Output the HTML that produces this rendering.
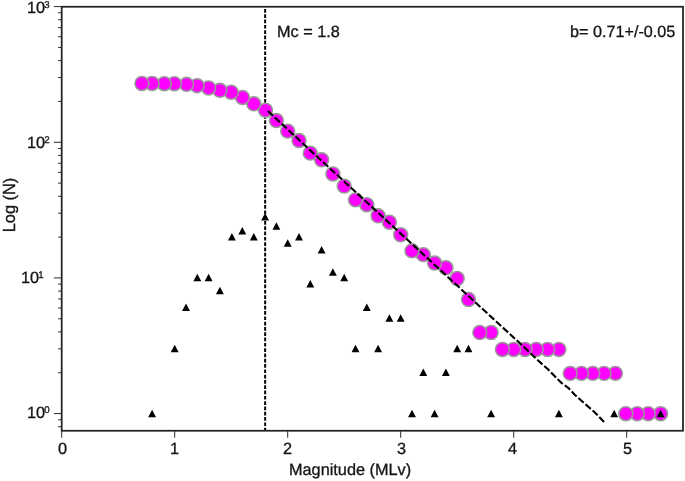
<!DOCTYPE html>
<html><head><meta charset="utf-8"><title>chart</title>
<style>
html,body{margin:0;padding:0;background:#fff;}
body{width:685px;height:481px;position:relative;overflow:hidden;font-family:"Liberation Sans",sans-serif;color:#141414;-webkit-text-stroke:0.3px #141414;}
.t{position:absolute;white-space:nowrap;line-height:1;will-change:transform;font-family:"Liberation Sans",sans-serif;}
.r{display:inline-block;transform:rotate(0.03deg);transform-origin:0 100%;}
.s{font-size:9.7px;position:relative;top:-5.1px;left:-0.9px;}
</style></head><body>
<svg width="685" height="481" viewBox="0 0 685 481" style="position:absolute;left:0;top:0">
<line x1="265.15" y1="9.0" x2="265.15" y2="430.75" stroke="#000" stroke-width="2" stroke-dasharray="3.7 1.6"/>
<circle cx="660.60" cy="413.70" r="6.95" fill="#ff00ff" stroke="#989898" stroke-width="1.55"/>
<circle cx="648.20" cy="413.70" r="6.95" fill="#ff00ff" stroke="#989898" stroke-width="1.55"/>
<circle cx="637.20" cy="413.70" r="6.95" fill="#ff00ff" stroke="#989898" stroke-width="1.55"/>
<circle cx="625.80" cy="413.70" r="6.95" fill="#ff00ff" stroke="#989898" stroke-width="1.55"/>
<circle cx="615.40" cy="373.36" r="6.95" fill="#ff00ff" stroke="#989898" stroke-width="1.55"/>
<circle cx="604.10" cy="373.36" r="6.95" fill="#ff00ff" stroke="#989898" stroke-width="1.55"/>
<circle cx="592.80" cy="373.36" r="6.95" fill="#ff00ff" stroke="#989898" stroke-width="1.55"/>
<circle cx="581.50" cy="373.36" r="6.95" fill="#ff00ff" stroke="#989898" stroke-width="1.55"/>
<circle cx="570.20" cy="373.36" r="6.95" fill="#ff00ff" stroke="#989898" stroke-width="1.55"/>
<circle cx="558.90" cy="349.47" r="6.95" fill="#ff00ff" stroke="#989898" stroke-width="1.55"/>
<circle cx="547.60" cy="349.47" r="6.95" fill="#ff00ff" stroke="#989898" stroke-width="1.55"/>
<circle cx="536.30" cy="349.47" r="6.95" fill="#ff00ff" stroke="#989898" stroke-width="1.55"/>
<circle cx="525.00" cy="349.47" r="6.95" fill="#ff00ff" stroke="#989898" stroke-width="1.55"/>
<circle cx="513.70" cy="349.47" r="6.95" fill="#ff00ff" stroke="#989898" stroke-width="1.55"/>
<circle cx="502.40" cy="349.47" r="6.95" fill="#ff00ff" stroke="#989898" stroke-width="1.55"/>
<circle cx="491.10" cy="332.52" r="6.95" fill="#ff00ff" stroke="#989898" stroke-width="1.55"/>
<circle cx="479.80" cy="332.52" r="6.95" fill="#ff00ff" stroke="#989898" stroke-width="1.55"/>
<circle cx="468.50" cy="299.55" r="6.95" fill="#ff00ff" stroke="#989898" stroke-width="1.55"/>
<circle cx="457.20" cy="278.53" r="6.95" fill="#ff00ff" stroke="#989898" stroke-width="1.55"/>
<circle cx="445.90" cy="267.79" r="6.95" fill="#ff00ff" stroke="#989898" stroke-width="1.55"/>
<circle cx="434.60" cy="263.07" r="6.95" fill="#ff00ff" stroke="#989898" stroke-width="1.55"/>
<circle cx="423.30" cy="254.64" r="6.95" fill="#ff00ff" stroke="#989898" stroke-width="1.55"/>
<circle cx="412.00" cy="250.84" r="6.95" fill="#ff00ff" stroke="#989898" stroke-width="1.55"/>
<circle cx="400.70" cy="234.81" r="6.95" fill="#ff00ff" stroke="#989898" stroke-width="1.55"/>
<circle cx="389.40" cy="222.23" r="6.95" fill="#ff00ff" stroke="#989898" stroke-width="1.55"/>
<circle cx="378.10" cy="215.80" r="6.95" fill="#ff00ff" stroke="#989898" stroke-width="1.55"/>
<circle cx="366.80" cy="204.72" r="6.95" fill="#ff00ff" stroke="#989898" stroke-width="1.55"/>
<circle cx="355.50" cy="199.87" r="6.95" fill="#ff00ff" stroke="#989898" stroke-width="1.55"/>
<circle cx="344.20" cy="186.11" r="6.95" fill="#ff00ff" stroke="#989898" stroke-width="1.55"/>
<circle cx="332.90" cy="173.95" r="6.95" fill="#ff00ff" stroke="#989898" stroke-width="1.55"/>
<circle cx="321.60" cy="159.81" r="6.95" fill="#ff00ff" stroke="#989898" stroke-width="1.55"/>
<circle cx="310.30" cy="153.13" r="6.95" fill="#ff00ff" stroke="#989898" stroke-width="1.55"/>
<circle cx="299.00" cy="140.55" r="6.95" fill="#ff00ff" stroke="#989898" stroke-width="1.55"/>
<circle cx="287.70" cy="131.14" r="6.95" fill="#ff00ff" stroke="#989898" stroke-width="1.55"/>
<circle cx="276.40" cy="120.56" r="6.95" fill="#ff00ff" stroke="#989898" stroke-width="1.55"/>
<circle cx="265.50" cy="110.22" r="6.95" fill="#ff00ff" stroke="#989898" stroke-width="1.55"/>
<circle cx="253.80" cy="103.81" r="6.95" fill="#ff00ff" stroke="#989898" stroke-width="1.55"/>
<circle cx="242.50" cy="97.48" r="6.95" fill="#ff00ff" stroke="#989898" stroke-width="1.55"/>
<circle cx="231.20" cy="92.27" r="6.95" fill="#ff00ff" stroke="#989898" stroke-width="1.55"/>
<circle cx="219.90" cy="90.30" r="6.95" fill="#ff00ff" stroke="#989898" stroke-width="1.55"/>
<circle cx="208.60" cy="87.94" r="6.95" fill="#ff00ff" stroke="#989898" stroke-width="1.55"/>
<circle cx="197.10" cy="85.66" r="6.95" fill="#ff00ff" stroke="#989898" stroke-width="1.55"/>
<circle cx="186.60" cy="84.34" r="6.95" fill="#ff00ff" stroke="#989898" stroke-width="1.55"/>
<circle cx="174.35" cy="83.69" r="6.95" fill="#ff00ff" stroke="#989898" stroke-width="1.55"/>
<circle cx="164.30" cy="83.69" r="6.95" fill="#ff00ff" stroke="#989898" stroke-width="1.55"/>
<circle cx="152.10" cy="83.47" r="6.95" fill="#ff00ff" stroke="#989898" stroke-width="1.55"/>
<circle cx="141.90" cy="83.47" r="6.95" fill="#ff00ff" stroke="#989898" stroke-width="1.55"/>
<path d="M148.15 417.25L156.05 417.25L152.10 409.75ZM170.75 352.22L178.65 352.22L174.70 344.72ZM182.05 310.88L189.95 310.88L186.00 303.38ZM193.35 281.28L201.25 281.28L197.30 273.78ZM204.65 281.28L212.55 281.28L208.60 273.78ZM215.95 294.13L223.85 294.13L219.90 286.63ZM227.95 240.44L235.85 240.44L231.90 232.94ZM238.35 234.52L246.25 234.52L242.30 227.02ZM249.85 240.44L257.75 240.44L253.80 232.94ZM261.15 220.61L269.05 220.61L265.10 213.11ZM272.45 229.70L280.35 229.70L276.40 222.20ZM283.75 246.65L291.65 246.65L287.70 239.15ZM295.05 240.44L302.95 240.44L299.00 232.94ZM306.35 287.49L314.25 287.49L310.30 279.99ZM317.65 253.59L325.55 253.59L321.60 246.09ZM328.95 275.66L336.85 275.66L332.90 268.16ZM340.25 281.28L348.15 281.28L344.20 273.78ZM351.55 352.22L359.45 352.22L355.50 344.72ZM362.85 310.88L370.75 310.88L366.80 303.38ZM374.15 352.22L382.05 352.22L378.10 344.72ZM385.45 321.82L393.35 321.82L389.40 314.32ZM396.75 321.82L404.65 321.82L400.70 314.32ZM408.05 417.25L415.95 417.25L412.00 409.75ZM419.35 376.11L427.25 376.11L423.30 368.61ZM430.65 417.25L438.55 417.25L434.60 409.75ZM441.95 376.11L449.85 376.11L445.90 368.61ZM453.25 352.22L461.15 352.22L457.20 344.72ZM464.55 352.22L472.45 352.22L468.50 344.72ZM487.15 417.25L495.05 417.25L491.10 409.75ZM554.95 417.25L562.85 417.25L558.90 409.75ZM610.25 417.25L618.15 417.25L614.20 409.75ZM656.65 417.25L664.55 417.25L660.60 409.75Z" fill="#000"/>
<polyline points="267.9,111.0 313.6,153.4 340,177.6 460,288.2 525.6,348.5 536.5,359.0 548.5,369.8 561,382.5 568.8,388.3 574.5,394.5 585,403.9 594.6,412.2 604.2,422.2" fill="none" stroke="#000" stroke-width="2.1" stroke-dasharray="7 2.4"/>
<rect x="61.7" y="6.75" width="621.3" height="424.0" fill="none" stroke="#222" stroke-width="1.75"/>
<path d="M61.70 430.75V437.7M174.70 430.75V437.7M287.70 430.75V437.7M400.70 430.75V437.7M513.70 430.75V437.7M626.70 430.75V437.7M61.7 413.60H53.9M61.7 277.93H53.9M61.7 142.26H53.9M61.7 6.59H53.9M61.7 426.75H58.1M61.7 419.81H58.1M61.7 372.76H58.1M61.7 348.87H58.1M61.7 331.92H58.1M61.7 318.77H58.1M61.7 308.03H58.1M61.7 298.95H58.1M61.7 291.08H58.1M61.7 284.14H58.1M61.7 237.09H58.1M61.7 213.20H58.1M61.7 196.25H58.1M61.7 183.10H58.1M61.7 172.36H58.1M61.7 163.28H58.1M61.7 155.41H58.1M61.7 148.47H58.1M61.7 101.42H58.1M61.7 77.53H58.1M61.7 60.58H58.1M61.7 47.43H58.1M61.7 36.69H58.1M61.7 27.61H58.1M61.7 19.74H58.1M61.7 12.80H58.1" stroke="#2a2a2a" stroke-width="1.0" fill="none"/>
</svg>
<div class="t" style="left:-37.4px;width:200px;text-align:center;top:440.00px;font-size:16.3px;"><span class="r">0</span></div>
<div class="t" style="left:74.69999999999999px;width:200px;text-align:center;top:440.00px;font-size:16.3px;"><span class="r">1</span></div>
<div class="t" style="left:187.7px;width:200px;text-align:center;top:440.00px;font-size:16.3px;"><span class="r">2</span></div>
<div class="t" style="left:301.5px;width:200px;text-align:center;top:440.00px;font-size:16.3px;"><span class="r">3</span></div>
<div class="t" style="left:412.9000000000001px;width:200px;text-align:center;top:440.00px;font-size:16.3px;"><span class="r">4</span></div>
<div class="t" style="left:527.7px;width:200px;text-align:center;top:440.00px;font-size:16.3px;"><span class="r">5</span></div>
<div class="t" style="left:250.25px;width:200px;text-align:center;top:461.00px;font-size:16.3px;"><span class="r">Magnitude (MLv)</span></div>
<div class="t" style="left:277.0px;top:23.00px;font-size:16.3px;"><span class="r">Mc = 1.8</span></div>
<div class="t" style="left:570.2px;top:22.80px;font-size:16.2px;"><span class="r">b= 0.71+/-0.05</span></div>
<div class="t" style="left:27.0px;top:-1.00px;font-size:16.3px;"><span class="r">10<span class="s">3</span></span></div>
<div class="t" style="left:27.0px;top:134.00px;font-size:16.3px;"><span class="r">10<span class="s">2</span></span></div>
<div class="t" style="left:21.2px;top:269.00px;font-size:16.3px;"><span class="r">10<span class="s">1</span></span></div>
<div class="t" style="left:27.0px;top:404.00px;font-size:16.3px;"><span class="r">10<span class="s">0</span></span></div>
<div class="t" style="left:14.6px;top:204.8px;font-size:16.4px;width:0;height:0;"><div style="position:absolute;left:0;top:0;transform:rotate(-90deg);transform-origin:0 0;"><div style="position:absolute;left:-100px;width:200px;text-align:center;top:-13.54px;line-height:16px">Log (N)</div></div></div>
</body></html>
